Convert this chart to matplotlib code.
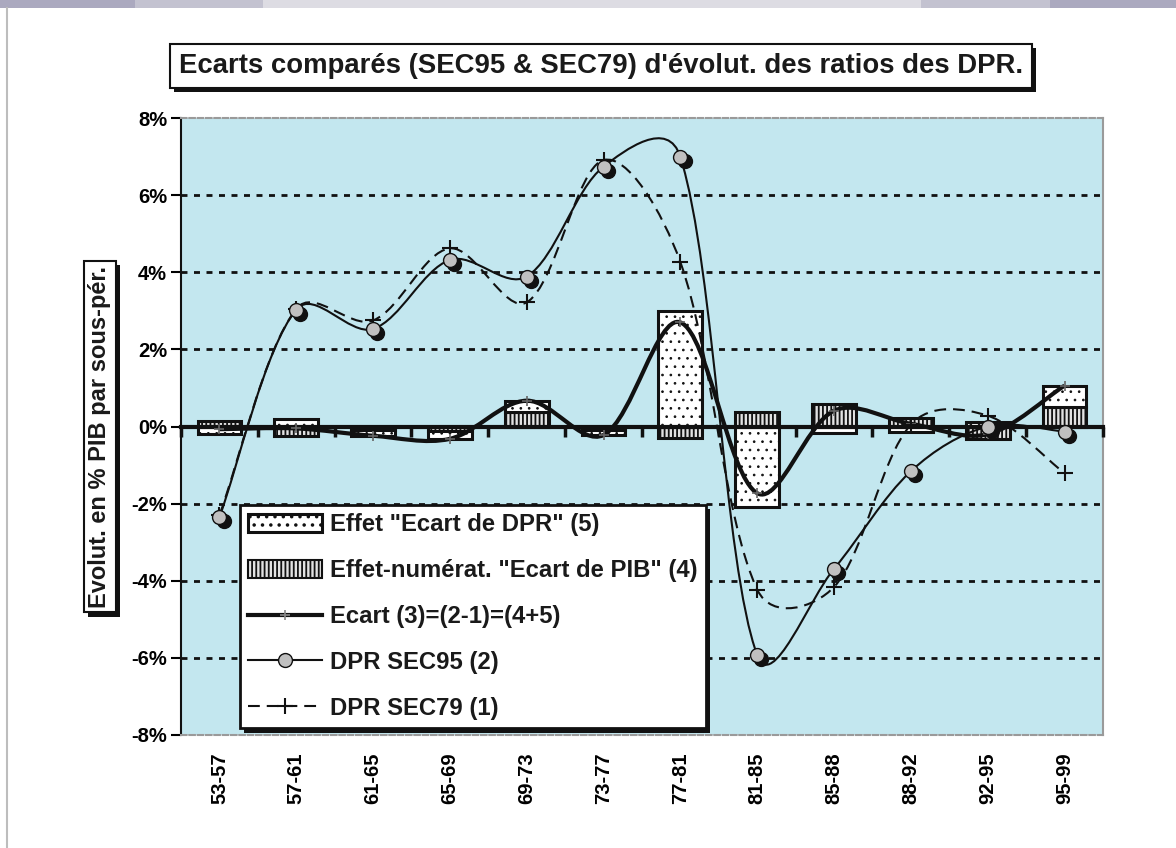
import numpy as np
import matplotlib
matplotlib.use('Agg')
import matplotlib.pyplot as plt
import matplotlib.patheffects as pe
import matplotlib.transforms as mtransforms
from matplotlib.path import Path
from matplotlib.patches import PathPatch, Patch, Rectangle
from matplotlib.lines import Line2D

plt.rcParams['font.family'] = ['Liberation Sans', 'DejaVu Sans']
plt.rcParams['font.weight'] = 'bold'
plt.rcParams['hatch.linewidth'] = 1.3
plt.rcParams['lines.scale_dashes'] = False

# --- data (% of GDP) ---
categories = ['53-57', '57-61', '61-65', '65-69', '69-73', '73-77',
              '77-81', '81-85', '85-88', '88-92', '92-95', '95-99']
effet_pib = [0.13, -0.25, -0.10, -0.12, 0.37, -0.08, -0.30, 0.37, 0.59, 0.22, -0.32, 0.50]
effet_dpr = [-0.20, 0.20, -0.14, -0.20, 0.30, -0.14, 3.00, -2.10, -0.18, -0.15, 0.12, 0.56]
ecart = [-0.07, -0.05, -0.24, -0.32, 0.67, -0.22, 2.70, -1.73, 0.41, 0.07, -0.20, 1.06]
dpr_sec95 = [-2.35, 3.03, 2.53, 4.32, 3.89, 6.74, 6.99, -5.93, -3.69, -1.16, 0.00, -0.13]
dpr_sec79 = [-2.30, 3.05, 2.75, 4.62, 3.22, 6.91, 4.26, -4.23, -4.16, 0.05, 0.28, -1.21]
y_ticks = [-8, -6, -4, -2, 0, 2, 4, 6, 8]

title = "Ecarts comparés (SEC95 & SEC79) d'évolut. des ratios des DPR."
ylabel = "Evolut. en % PIB par sous-pér."
labels = ['Effet "Ecart de DPR" (5)', 'Effet-numérat. "Ecart de PIB" (4)',
          'Ecart (3)=(2-1)=(4+5)', 'DPR SEC95 (2)', 'DPR SEC79 (1)']

fig = plt.figure(figsize=(11.76, 8.48), dpi=100)
ax = fig.add_axes([0.1539, 0.1333, 0.7840, 0.7275])
ax.set_facecolor('#c3e7ef')
x = np.arange(len(categories))
ax.set_xlim(-0.5, len(categories) - 0.5)
ax.set_ylim(y_ticks[0], y_ticks[-1])

# stacked bars (positive and negative parts stack separately)
pib = np.array(effet_pib)
dpr = np.array(effet_dpr)
dpr_bottom = np.where(np.sign(dpr) == np.sign(pib), pib, 0)
ax.bar(x, pib, width=0.57, color='#e2e2e2', edgecolor='#111', hatch='||||', lw=2.2, zorder=1.5)
with plt.rc_context({'hatch.linewidth': 0.7}):
    ax.bar(x, dpr, bottom=dpr_bottom, width=0.57, color='white', edgecolor='#111', hatch='..',
           lw=2.2, zorder=1.6)


def smooth(xs, ys):
    # excel-like smoothed line: bezier segments in screen space
    pts = ax.transData.transform(np.column_stack([xs, ys]))
    n = len(pts)
    verts = [pts[0]]
    codes = [Path.MOVETO]
    for i in range(n - 1):
        p0 = pts[i - 1] if i > 0 else pts[i]
        p1, p2 = pts[i], pts[i + 1]
        p3 = pts[i + 2] if i + 2 < n else pts[i + 1]
        d01 = np.hypot(*(p1 - p0))
        d12 = np.hypot(*(p2 - p1))
        d23 = np.hypot(*(p3 - p2))
        k1 = (2 * d12 / (d01 + d12)) ** 0.55 / 6
        k2 = (2 * d12 / (d12 + d23)) ** 0.55 / 6
        c1 = p1 + (p2 - p0) * k1
        c2 = p2 - (p3 - p1) * k2
        verts += [c1, c2, p2]
        codes += [Path.CURVE4] * 3
    verts = ax.transData.inverted().transform(np.array(verts))
    return Path(verts, codes)


ax.add_patch(PathPatch(smooth(x, ecart), fill=False, ec='#111', lw=3, zorder=3))
ax.add_patch(PathPatch(smooth(x, dpr_sec79), fill=False, ec='#111', lw=1.5,
                       ls=(0, (8.5, 5)), zorder=3.1))
ax.add_patch(PathPatch(smooth(x, dpr_sec95), fill=False, ec='#111', lw=1.5, zorder=3.2))

ax.plot(x, ecart, ls='none', marker='+', ms=7, mew=1.2, mec='#666', zorder=3.3)
ax.plot(x, dpr_sec79, ls='none', marker='+', ms=12, mew=1.5, mec='#111', zorder=3.4)
shadow_tr = ax.transData + mtransforms.ScaledTranslation(3 / 72, -3 / 72, fig.dpi_scale_trans)
ax.plot(x, dpr_sec95, ls='none', marker='o', ms=10, mfc='#111', mec='#111', transform=shadow_tr, zorder=3.5)
ax.plot(x, dpr_sec95, ls='none', marker='o', ms=10, mfc='#c0c0c0', mec='#111', mew=1, zorder=3.6)

# axes styling
ax.set_yticks(y_ticks)
ax.set_yticklabels([f'{v}%' for v in y_ticks], fontsize=14.5)
ax.tick_params(axis='y', direction='out', length=7, width=1.5, pad=3)
ax.yaxis.grid(True, color='#111', lw=2, ls=(0, (4.3, 4.7)))
ticks = ax.yaxis.get_major_ticks()
ticks[0].gridline.set_visible(False)
ticks[-1].gridline.set_visible(False)
ax.set_axisbelow(True)

ax.set_xticks(x)
ax.set_xticklabels(categories, rotation=90, fontsize=14.5)
ax.tick_params(axis='x', length=0, pad=12.5)

ax.spines['left'].set_color('#111')
ax.spines['left'].set_linewidth(1.5)
for s in ['top', 'bottom']:
    ax.spines[s].set_color('#9a9a9a')
    ax.spines[s].set_linewidth(1.5)
    ax.spines[s].set_linestyle((0, (4, 2)))
ax.spines['right'].set_color('#9a9a9a')
ax.spines['right'].set_linewidth(1.5)

# category axis at 0 with boundary ticks
y0 = (0 - y_ticks[0]) / (y_ticks[-1] - y_ticks[0])
sec = ax.secondary_xaxis(y0)
sec.set_alignment('bottom')
sec.set_xticks(np.arange(len(categories) + 1) - 0.5)
sec.set_xticklabels([])
sec.tick_params(direction='out', length=7, width=2.5, color='#111')
sec.spines['bottom'].set_linewidth(3)
sec.spines['bottom'].set_color('#111')
sec.set_zorder(2.5)

# legend
handles = [
    Patch(facecolor='white', edgecolor='#111', hatch='..', lw=2.2),
    Patch(facecolor='#e2e2e2', edgecolor='#111', hatch='||||', lw=1.5),
    Line2D([], [], color='#111', lw=3, marker='+', ms=7, mew=1.2, mec='#888'),
    Line2D([], [], color='#111', lw=1.5, marker='o', ms=10, mfc='#c0c0c0', mec='#111'),
    Line2D([], [], color='#111', lw=1.5, ls=(0, (8.5, 5)), marker='+', ms=12, mew=1.5),
]
leg = ax.legend(handles, labels, loc='upper left', bbox_to_anchor=(240 / 1176, 1 - 505 / 848),
                bbox_transform=fig.transFigure, fontsize=17.2, frameon=True, fancybox=False,
                edgecolor='#111', framealpha=1, borderaxespad=0, borderpad=0.35,
                labelspacing=0.96, handlelength=3.1, handleheight=0.8, handletextpad=0.3)
leg.get_frame().set_linewidth(2)
leg.get_frame().set_path_effects([pe.SimplePatchShadow(offset=(3, -3), shadow_rgbFace='#111', alpha=1),
                                  pe.Normal()])
for t in leg.get_texts():
    t.set_color('#1a1a1a')

# title and y label boxes with hard shadow
t1 = fig.text(0.511, 0.922, title, ha='center', va='center', fontsize=19.8, color='#1a1a1a',
              bbox=dict(boxstyle='square,pad=0.33', fc='white', ec='#111', lw=1.5))
t2 = fig.text(0.085, 0.485, ylabel, ha='center', va='center', rotation=90, fontsize=17,
              color='#1a1a1a', bbox=dict(boxstyle='square,pad=0.2', fc='white', ec='#111', lw=1.5))
for t in (t1, t2):
    t.get_bbox_patch().set_path_effects([pe.SimplePatchShadow(offset=(3, -3), shadow_rgbFace='#111', alpha=1),
                                         pe.Normal()])

# window-like frame decoration
strip = [(0, 135, '#aba9bf'), (135, 263, '#c3c2d0'), (263, 921, '#dddce3'),
         (921, 1050, '#c3c2d0'), (1050, 1176, '#aba9bf')]
for a, b, c in strip:
    fig.add_artist(Rectangle((a / 1176, 1 - 8 / 848), (b - a) / 1176, 8 / 848,
                             transform=fig.transFigure, color=c, lw=0))
fig.add_artist(Line2D([7 / 1176, 7 / 1176], [0, 1 - 8 / 848], transform=fig.transFigure,
                      color='#bdbdbd', lw=1.5))

fig.savefig('out.png', dpi=100)
